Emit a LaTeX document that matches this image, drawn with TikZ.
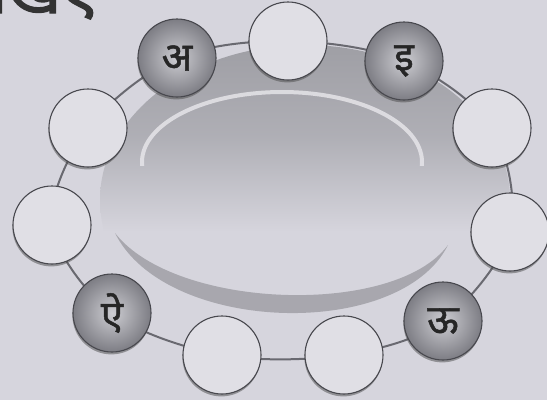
\documentclass[tikz,border=0pt]{standalone}
\usepackage{fontspec}
\newfontfamily\deva[Script=Devanagari,FakeBold=1.2]{Noto Sans}
\newfontfamily\devahead[Script=Devanagari,FakeBold=2]{Noto Sans}
\usetikzlibrary{backgrounds,shadows}
\definecolor{bg}{RGB}{214,213,221}
\definecolor{emptyfill}{RGB}{224,223,229}
\definecolor{rim}{RGB}{72,72,78}
\definecolor{ringc}{RGB}{105,105,112}
\definecolor{band}{RGB}{158,158,164}
\definecolor{crescent}{RGB}{160,160,166}
\definecolor{ballin}{RGB}{205,205,210}
\definecolor{ballout}{RGB}{125,125,132}
\tikzset{
  slot/.style={circle, minimum size=78pt, inner sep=0pt, draw=rim, line width=1.1pt,
    fill=emptyfill, drop shadow={shadow xshift=-0.6pt, shadow yshift=-2.4pt, fill=black!70, opacity=0.5}},
  lettered/.style={slot, shading=radial, inner color=ballin, outer color=ballout,
    font=\deva\fontsize{40}{44}\selectfont, text=black!85},
  ring/.style={draw=ringc, line width=2pt},
}
\begin{document}
\begin{tikzpicture}[x=1pt,y=-1pt]
\useasboundingbox (0,0) rectangle (547,400);
% circles
\node[lettered] (a)  at (177,58)  {अ};
\node[slot]     (t)  at (288,41)  {};
\node[lettered] (i)  at (404,61)  {इ};
\node[slot]     (ru) at (492,128) {};
\node[slot]     (rm) at (510,232) {};
\node[lettered] (uu) at (443,321) {ऊ};
\node[slot]     (b2) at (344,355) {};
\node[slot]     (b1) at (222,355) {};
\node[lettered] (ai) at (112,313) {ऐ};
\node[slot]     (lm) at (52,225)  {};
\node[slot]     (lu) at (88,128)  {};
% heading (cut at the left and top edges, as in the reference)
\node[anchor=base east, inner sep=0pt, font=\devahead\fontsize{66}{70}\selectfont, text=black!80] (head) at (98,13) {लिखिए};
\begin{pgfonlayer}{background}
\fill[bg] (0,0) rectangle (547,400);
% plate shading
\begin{scope}
\clip (305,200) ellipse [x radius=205, y radius=155];
\shade[top color=band, bottom color=bg, middle color=band!70!bg] (90,40) rectangle (520,232);
\end{scope}
\begin{scope}
\clip (0,0) rectangle (547,165);
\draw[white!45!bg, line width=4pt, opacity=0.8] (282,162) ellipse [x radius=140, y radius=70];
\end{scope}
\fill[crescent, opacity=0.85] (115,233) .. controls (165,334) and (400,341) .. (448,245)
  .. controls (395,317) and (175,310) .. (115,233);
% ring
\draw[ring] plot[smooth cycle, tension=0.55] coordinates {(a.center) (t.center) (i.center) (ru.center) (rm.center) (uu.center) (b2.center) (b1.center) (ai.center) (lm.center) (lu.center)};
\end{pgfonlayer}
\end{tikzpicture}
\end{document}
